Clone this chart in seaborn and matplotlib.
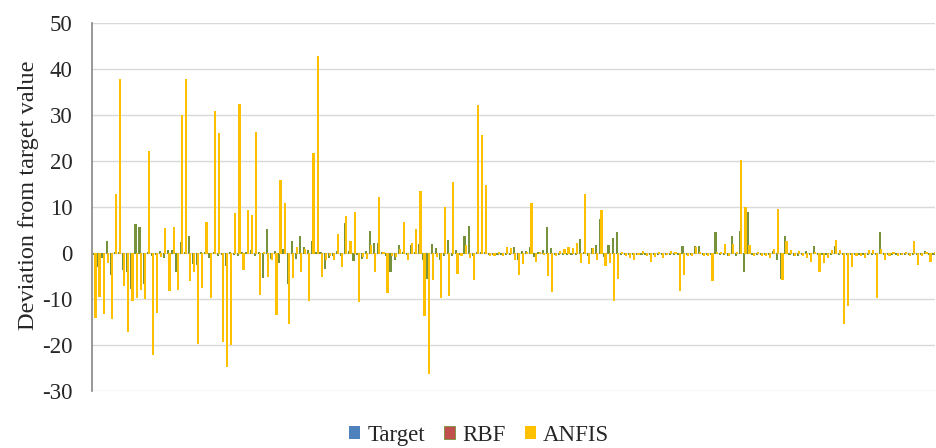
import numpy as np
import pandas as pd
import matplotlib.pyplot as plt
import seaborn as sns

# deviation of each model from the target, one value per test sample
anfis = [
    -14.0, -9.4, -13.0, -2.0, -14.1, 12.9, 37.8, -6.9, -16.9, -10.3,
    -9.6, -7.8, -9.8, 22.2, -21.9, -12.8, -0.6, 5.4, -8.0, 5.7,
    -7.8, 29.9, 37.8, -5.8, -4.0, -19.6, -7.4, 6.8, -9.6, 30.8,
    26.1, -19.2, -24.6, -19.8, 8.6, 32.4, -3.5, 9.3, 8.3, 26.3,
    -8.9, 0.3, -5.1, -1.2, -13.3, 15.9, 10.9, -15.2, -5.3, 1.3,
    -3.8, 0.9, -10.1, 21.7, 42.9, -5.1, -1.3, -0.4, -1.4, 4.1,
    -2.9, 8.0, 2.5, 8.8, -10.5, -0.7, -1.1, 1.8, -3.8, 12.2,
    0.3, -8.4, -0.5, -0.7, 0.9, 6.8, -1.2, 2.2, 5.3, 13.4,
    -13.4, -26.0, -5.6, -0.6, -9.6, 10.0, -9.1, 15.5, -4.3, -0.4,
    1.7, -0.9, -5.6, 32.1, 25.6, 14.8, -0.5, -0.5, 0.3, -0.5,
    1.2, 1.0, -1.3, -4.5, -2.2, 0.3, 10.8, -1.8, 0.3, -0.3,
    -4.8, -8.2, -0.5, 0.5, 0.8, 1.2, 1.0, 2.2, -2.0, 12.8,
    -2.2, 1.0, -1.3, 9.4, -2.5, -1.9, -10.1, -5.4, 0.3, -0.5,
    -0.8, -1.3, -0.3, 0.5, -0.5, -1.8, -0.7, 0.3, -0.9, -0.3,
    0.5, 0.3, -8.0, -4.5, -0.5, -0.5, 1.2, 0.3, -0.5, -0.5,
    -5.9, 0.3, 0.3, 2.0, -0.5, 2.0, 0.3, 20.2, 9.9, 1.8,
    -0.5, 0.3, -0.5, -0.5, -0.9, 0.9, 9.6, -5.6, 2.7, 0.7,
    -0.5, 0.5, -0.5, -0.9, -1.8, 0.3, -3.8, -2.0, -0.9, 0.7,
    2.9, 0.7, -15.1, -11.3, -2.9, -0.5, -0.5, -0.9, 0.7, 0.7,
    -9.6, 0.9, -1.3, -0.5, 0.3, -0.5, -0.3, 0.3, -0.5, 2.5,
    -2.4, -0.5, 0.3, -1.7, 0.3,
]

rbf = [
    -0.3, -2.9, -0.9, 2.5, -4.5, 0.2, 0.2, -3.5, -4.0, -7.5,
    6.2, 5.7, -6.5, 0.3, -0.4, -0.3, 0.5, -0.8, 0.7, 0.7,
    -3.8, 2.3, 0.3, 3.8, -2.2, -2.3, 0.3, 0.3, -0.8, 0.3,
    -0.5, -0.3, -2.7, 0.3, -0.3, -0.5, 0.2, 0.2, 0.7, -0.5,
    0.3, -5.2, 5.2, -1.0, 0.5, -2.0, 0.9, -6.5, 2.5, -1.1,
    3.6, 1.3, 0.7, 2.7, 0.3, 0.2, -3.3, -0.9, -0.5, 0.5,
    -0.5, 6.5, 0.5, -1.5, -0.3, -1.0, 0.5, 4.7, 2.2, 2.2,
    0.3, -0.5, -4.0, -1.3, 1.7, 0.3, -0.3, 1.7, 0.3, 1.9,
    -1.2, -5.5, 1.9, 1.0, -1.2, -0.4, 2.8, -0.4, 0.6, -0.3,
    3.8, 5.8, -0.5, 0.2, 0.2, 0.3, -0.3, -0.3, -0.3, -0.3,
    -0.3, -0.3, 1.4, -1.3, 0.5, 0.5, 1.4, -0.6, 0.3, 0.6,
    5.6, 1.0, -0.3, -0.3, -0.3, -0.3, -0.3, -0.3, 3.0, 0.3,
    -0.5, 1.0, 1.7, 7.4, -0.6, 1.7, 3.3, 4.5, -0.3, -0.3,
    -0.3, -0.3, -0.3, -0.3, -0.3, -0.3, -0.3, -0.3, -0.3, -0.3,
    -0.3, -0.3, -0.3, 1.6, -0.3, -0.3, 1.6, 1.6, -0.3, -0.3,
    -0.3, 4.6, -0.3, -0.3, -0.5, 3.6, -0.5, 4.7, -4.0, 8.9,
    -0.3, -0.3, -0.3, -0.3, -0.3, 0.5, -1.4, -5.4, 3.6, -0.3,
    -0.5, -0.5, -0.3, 0.5, -0.3, 1.6, -0.3, -0.3, -0.3, -0.3,
    1.6, -0.3, -0.3, -0.3, -0.3, -0.3, -0.3, -0.3, -0.3, -0.3,
    -0.3, 4.6, -0.3, -0.3, -0.3, -0.3, -0.3, -0.3, -0.3, -0.3,
    -0.3, -0.3, 0.5, -0.3, -0.3,
]

# the target deviates from itself by nothing
target = [0.0] * len(anfis)

models = ['Target', 'RBF', 'ANFIS']
colors = {'Target': '#4F81BD', 'RBF': '#C0504D', 'ANFIS': '#FFC000'}
rbf_edge = '#76923C'
n = len(anfis)

df = pd.DataFrame({
    'sample': list(range(n)) * 3,
    'model': ['Target'] * n + ['RBF'] * n + ['ANFIS'] * n,
    'value': target + rbf + anfis,
})

sns.set_theme(style="white")
plt.rcParams['font.family'] = ['Liberation Serif', 'DejaVu Serif']
plt.rcParams['axes.unicode_minus'] = False

fig, ax = plt.subplots(figsize=(9.36, 4.48), dpi=100)
fig.subplots_adjust(left=0.098, right=0.999, bottom=0.127, top=0.949)

sns.barplot(data=df, x='sample', y='value', hue='model', hue_order=models,
            palette=colors, saturation=1, width=0.85, linewidth=0,
            errorbar=None, legend=False, ax=ax)

# bars are only ~1 px wide: thicken them a bit with an edge and draw crisp
for name, cont in zip(models, ax.containers):
    for p in cont.patches:
        p.set_antialiased(False)
        if name == 'RBF':
            # red fill with green border in the original -> thin bars look green
            p.set_facecolor(rbf_edge)
        if name != 'Target':
            p.set_edgecolor(p.get_facecolor())
            p.set_linewidth(0.5)

ax.set_ylim(-30, 50)
ax.set_yticks(range(-30, 51, 10))
ax.set_xticks([])
ax.set_xlabel('')
ax.set_ylabel('Deviation from target value', fontsize=17.5)
ax.yaxis.set_label_coords(-0.062, 0.533)
ax.tick_params(axis='y', length=0, pad=14, labelsize=16.5)

ax.grid(axis='y', color='#D9D9D9', linewidth=1)
ax.set_axisbelow(True)
for side in ['top', 'right', 'bottom']:
    ax.spines[side].set_visible(False)
ax.spines['left'].set_color('#868686')
ax.spines['left'].set_linewidth(1.2)

leg = fig.legend(ax.containers, models, loc='center', bbox_to_anchor=(0.512, 0.028),
                 ncol=3, frameon=False, fontsize=16.5, handlelength=0.48,
                 handleheight=0.48, handletextpad=0.3, columnspacing=0.85)
# legend keys: plain fills; RBF keeps its red fill with the green outline
for name, key in zip(models, leg.legend_handles):
    key.set_facecolor(colors[name])
    key.set_linewidth(0)
rbf_key = leg.legend_handles[1]
rbf_key.set_edgecolor(rbf_edge)
rbf_key.set_linewidth(0.6)

fig.savefig('out.png', dpi=100)
